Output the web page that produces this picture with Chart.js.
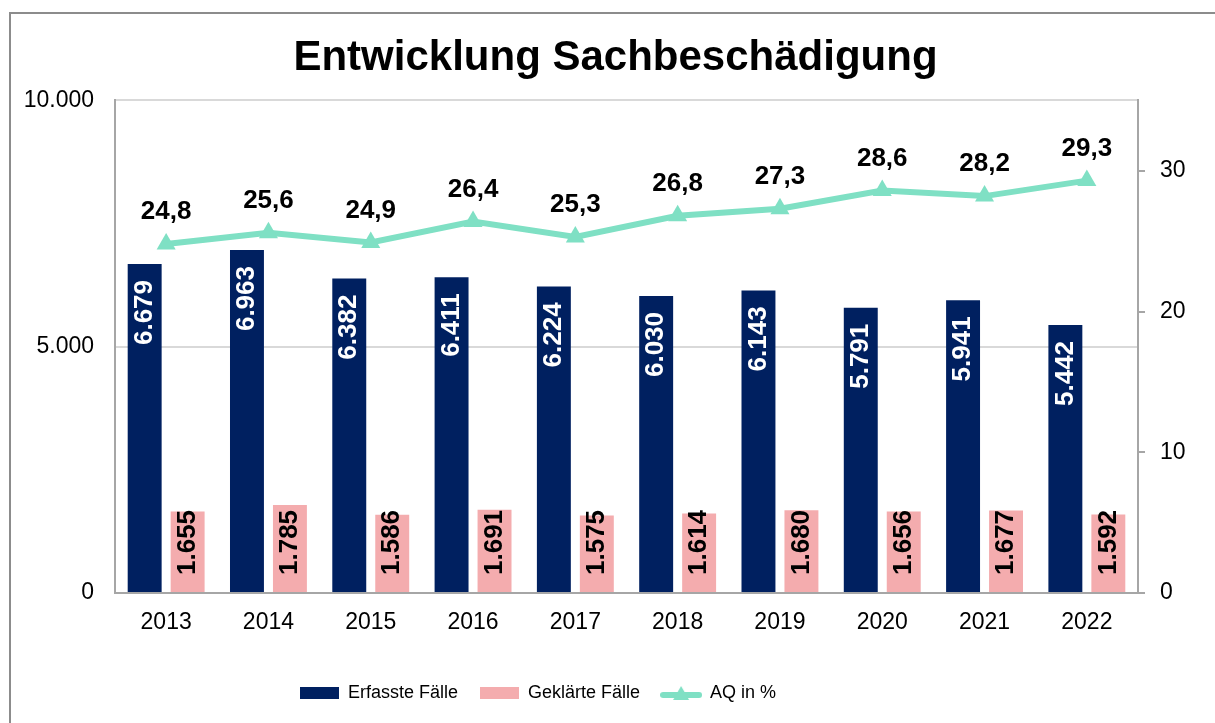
<!DOCTYPE html>
<html lang="de">
<head>
    <meta charset="UTF-8">
    <title>Entwicklung Sachbeschädigung</title>
    <script src="https://cdn.jsdelivr.net/npm/chart.js"></script>
    <style>
        body { margin: 0; background: #fff; }
        .wrap { position: relative; width: 1215px; height: 723px; }
    </style>
</head>
<body>
    <div class="wrap">
        <canvas id="sachChart"></canvas>
    </div>

    <script>
        // Daten
        const years = ['2013', '2014', '2015', '2016', '2017', '2018', '2019', '2020', '2021', '2022'];
        const erfassteFaelle = [6679, 6963, 6382, 6411, 6224, 6030, 6143, 5791, 5941, 5442];
        const geklaerteFaelle = [1655, 1785, 1586, 1691, 1575, 1614, 1680, 1656, 1677, 1592];
        const aqProzent = [24.8, 25.6, 24.9, 26.4, 25.3, 26.8, 27.3, 28.6, 28.2, 29.3];
        const leftTicks = [0, 5000, 10000];
        const rightTicks = [0, 10, 20, 30];

        const navy = '#002060';
        const pink = '#F4ACAE';
        const mint = '#7FE0C4';
        const axisGray = '#A6A6A6';

        Chart.defaults.font.family = '"Liberation Sans", Arial, sans-serif';
        Chart.defaults.color = '#000';

        function deNum(v) {
            return String(v).replace(/\B(?=(\d{3})+(?!\d))/g, '.');
        }
        function deDec(v) {
            return v.toFixed(1).replace('.', ',');
        }

        // kleine Bilder fuer die Legende
        function rectIcon(color) {
            const c = document.createElement('canvas');
            c.width = 39; c.height = 12;
            const g = c.getContext('2d');
            g.fillStyle = color;
            g.fillRect(0, 0, 39, 12);
            return c;
        }
        function lineIcon(color) {
            const c = document.createElement('canvas');
            c.width = 42; c.height = 16;
            const g = c.getContext('2d');
            g.strokeStyle = color;
            g.lineWidth = 6;
            g.lineCap = 'round';
            g.beginPath();
            g.moveTo(3, 10); g.lineTo(39, 10);
            g.stroke();
            g.fillStyle = color;
            g.beginPath();
            g.moveTo(21, 1); g.lineTo(29, 15); g.lineTo(13, 15);
            g.closePath();
            g.fill();
            return c;
        }
        const legendIcons = [rectIcon(navy), rectIcon(pink), lineIcon(mint)];

        const framePlugin = {
            id: 'frame',
            beforeDraw(chart) {
                const ctx = chart.ctx;
                ctx.save();
                ctx.strokeStyle = '#8C8C8C';
                ctx.lineWidth = 2;
                ctx.beginPath();
                ctx.moveTo(10, chart.height);
                ctx.lineTo(10, 13);
                ctx.lineTo(chart.width, 13);
                ctx.stroke();
                ctx.restore();
            },
            afterLayout(chart) {
                // Legende und Titel wie im Original verschieben
                if (chart.legend) {
                    chart.legend.left = 278;
                    chart.legend.top = 663;
                }
                if (chart.titleBlock) {
                    chart.titleBlock.left += 8;
                    chart.titleBlock.right += 8;
                }
            }
        };

        const valueLabels = {
            id: 'valueLabels',
            afterDatasetsDraw(chart) {
                const ctx = chart.ctx;
                ctx.save();
                ctx.font = 'bold 26px "Liberation Sans", Arial, sans-serif';
                ctx.textBaseline = 'middle';

                chart.getDatasetMeta(0).data.forEach((bar, i) => {
                    ctx.save();
                    ctx.translate(bar.x, bar.y + 16);
                    ctx.rotate(-Math.PI / 2);
                    ctx.fillStyle = '#fff';
                    ctx.textAlign = 'right';
                    ctx.fillText(deNum(erfassteFaelle[i]), 0, 0);
                    ctx.restore();
                });

                chart.getDatasetMeta(1).data.forEach((bar, i) => {
                    ctx.save();
                    ctx.translate(bar.x, bar.base - 17);
                    ctx.rotate(-Math.PI / 2);
                    ctx.fillStyle = '#000';
                    ctx.textAlign = 'left';
                    ctx.fillText(deNum(geklaerteFaelle[i]), 0, 0);
                    ctx.restore();
                });

                ctx.textAlign = 'center';
                ctx.fillStyle = '#000';
                chart.getDatasetMeta(2).data.forEach((pt, i) => {
                    ctx.fillText(deDec(aqProzent[i]), pt.x, pt.y - 32);
                });
                ctx.restore();
            }
        };

        const ctx = document.getElementById('sachChart').getContext('2d');
        const sachChart = new Chart(ctx, {
            type: 'bar',
            data: {
                labels: years,
                datasets: [
                    {
                        label: 'Erfasste Fälle',
                        data: erfassteFaelle,
                        backgroundColor: navy,
                        yAxisID: 'y',
                        categoryPercentage: 0.84,
                        barPercentage: 0.79
                    },
                    {
                        label: 'Geklärte Fälle',
                        data: geklaerteFaelle,
                        backgroundColor: pink,
                        yAxisID: 'y',
                        categoryPercentage: 0.84,
                        barPercentage: 0.79
                    },
                    {
                        type: 'line',
                        label: 'AQ in %',
                        data: aqProzent,
                        borderColor: mint,
                        backgroundColor: mint,
                        borderWidth: 6,
                        tension: 0,
                        pointStyle: 'triangle',
                        pointRadius: 11,
                        pointBorderWidth: 0,
                        pointBackgroundColor: mint,
                        yAxisID: 'y1'
                    }
                ]
            },
            options: {
                responsive: true,
                maintainAspectRatio: false,
                animation: false,
                layout: { padding: { top: 0, right: 0, bottom: 0, left: 0 } },
                scales: {
                    x: {
                        grid: { display: false, drawTicks: false },
                        border: { display: true, color: axisGray, width: 2 },
                        ticks: { font: { size: 23 }, padding: 16 },
                        afterFit: s => { s.height = 81; }
                    },
                    y: {
                        position: 'left',
                        min: 0,
                        max: 10000,
                        afterBuildTicks: s => { s.ticks = leftTicks.map(v => ({ value: v })); },
                        grid: { color: '#D9D9D9', lineWidth: 2, drawTicks: false },
                        border: { display: true, color: axisGray, width: 2 },
                        ticks: {
                            font: { size: 23 },
                            padding: 21,
                            callback: v => deNum(v)
                        },
                        afterFit: s => { s.width = 115; }
                    },
                    y1: {
                        position: 'right',
                        min: 0,
                        max: 35,
                        afterBuildTicks: s => { s.ticks = rightTicks.map(v => ({ value: v })); },
                        grid: { drawOnChartArea: false, drawTicks: true, tickLength: 7, color: axisGray, lineWidth: 2 },
                        border: { display: true, color: axisGray, width: 2 },
                        ticks: { font: { size: 23 }, padding: 15 },
                        afterFit: s => { s.width = 77; }
                    }
                },
                plugins: {
                    title: {
                        display: true,
                        text: 'Entwicklung Sachbeschädigung',
                        color: '#000',
                        font: { size: 42, weight: 'bold' },
                        padding: { top: 33, bottom: 17 }
                    },
                    legend: {
                        display: true,
                        position: 'bottom',
                        align: 'start',
                        labels: {
                            usePointStyle: true,
                            pointStyleWidth: 40,
                            padding: 21,
                            font: { size: 18 },
                            color: '#000',
                            generateLabels: chart => chart.data.datasets.map((ds, i) => ({
                                text: ds.label,
                                pointStyle: legendIcons[i],
                                fillStyle: ds.backgroundColor,
                                strokeStyle: ds.backgroundColor,
                                lineWidth: 0,
                                hidden: false,
                                datasetIndex: i
                            }))
                        }
                    },
                    tooltip: { enabled: false }
                }
            },
            plugins: [framePlugin, valueLabels]
        });
    </script>
</body>
</html>
